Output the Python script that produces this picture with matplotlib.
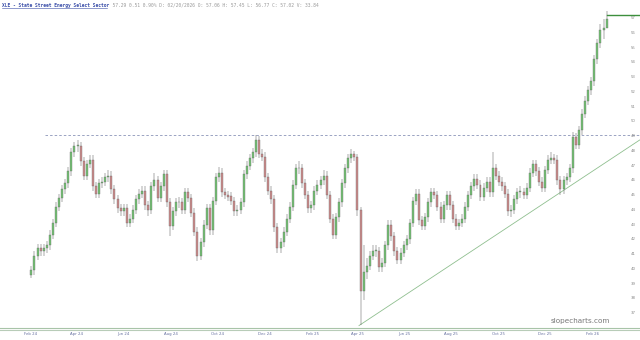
import matplotlib
matplotlib.use('Agg')
import matplotlib.pyplot as plt
import matplotlib.dates as mdates
import numpy as np
import pandas as pd

# XLE, one bar per 4 calendar days
first_open = 39.6
closes = [39.9, 40.9, 41.4, 41.2, 41.4, 41.6, 42.3, 43.1, 44.2, 44.8,
          45.4, 45.8, 46.6, 47.9, 48.3, 48.3, 47.3, 46.3, 47.1, 47.4,
          45.6, 45.1, 45.8, 45.9, 46.2, 46.3, 45.4, 44.7, 44.1, 43.9,
          44.1, 43.1, 43.4, 44.0, 44.7, 45.1, 45.3, 44.3, 44.0, 45.6,
          46.0, 44.8, 45.6, 46.4, 44.5, 42.9, 43.9, 44.5, 44.5, 44.0,
          45.2, 44.8, 43.8, 42.5, 40.9, 41.8, 43.0, 44.1, 42.6, 44.6,
          46.2, 46.5, 45.2, 45.0, 44.9, 44.6, 43.9, 44.0, 44.5, 46.4,
          47.0, 47.5, 47.9, 48.7, 47.8, 47.6, 46.2, 45.3, 44.7, 42.8,
          41.4, 41.8, 42.5, 43.4, 44.2, 45.7, 46.8, 46.8, 45.8, 45.0,
          44.1, 44.3, 45.3, 45.7, 46.0, 46.3, 45.0, 43.4, 42.3, 43.5,
          44.5, 45.8, 46.8, 47.5, 47.8, 47.6, 44.0, 38.5, 39.8, 40.2,
          40.9, 41.2, 41.2, 40.1, 40.4, 41.6, 43.0, 42.2, 41.2, 40.6,
          41.1, 41.6, 42.0, 43.1, 44.6, 45.1, 43.3, 42.9, 43.5, 44.5,
          45.2, 45.0, 44.2, 43.4, 44.3, 45.0, 44.3, 43.4, 42.9, 43.1,
          43.4, 44.2, 45.0, 45.6, 46.1, 45.7, 44.9, 45.5, 45.9, 45.2,
          46.8, 46.3, 45.9, 45.6, 45.1, 43.9, 44.0, 44.7, 45.2, 45.2,
          45.0, 45.5, 46.5, 47.1, 46.6, 45.9, 45.5, 46.7, 47.4, 47.5,
          47.4, 46.0, 45.4, 46.0, 46.2, 46.8, 48.9, 48.4, 49.4, 50.5,
          51.4, 52.1, 52.7, 54.2, 55.3, 56.2, 56.3, 56.9]
highs = [40.2, 41.2, 41.7, 41.7, 41.7, 41.9, 42.6, 43.4, 44.5, 45.1,
         45.7, 46.1, 46.9, 48.2, 48.6, 48.7, 48.6, 47.6, 47.4, 47.7,
         47.7, 45.9, 46.1, 46.2, 46.5, 46.7, 46.6, 45.7, 45.0, 44.4,
         44.4, 44.4, 43.7, 44.3, 45.0, 45.4, 45.6, 45.6, 44.6, 45.9,
         46.5, 46.3, 45.9, 46.7, 46.7, 44.8, 44.2, 44.8, 44.9, 44.8,
         45.5, 45.5, 45.1, 44.1, 42.8, 42.1, 43.3, 44.4, 44.4, 44.9,
         46.5, 46.9, 46.8, 45.5, 45.3, 45.2, 44.9, 44.3, 44.8, 46.7,
         47.3, 47.8, 48.2, 49.1, 49.0, 48.1, 47.9, 46.5, 45.6, 45.0,
         43.1, 42.1, 42.8, 43.7, 44.5, 46.0, 47.1, 47.3, 47.1, 46.1,
         45.3, 44.6, 45.6, 46.0, 46.3, 46.7, 46.6, 45.3, 43.7, 43.8,
         44.8, 46.1, 47.1, 47.8, 48.1, 48.0, 47.8, 44.2, 41.6, 40.7,
         41.2, 41.6, 41.6, 41.5, 40.7, 41.9, 43.3, 43.3, 42.5, 41.5,
         41.4, 41.9, 42.3, 43.4, 44.9, 45.4, 45.4, 43.6, 43.8, 44.8,
         45.5, 45.5, 45.3, 44.5, 44.6, 45.3, 45.3, 44.6, 43.7, 43.4,
         43.7, 44.5, 45.3, 45.9, 46.4, 46.4, 46.0, 45.8, 46.2, 46.2,
         47.9, 47.1, 46.6, 46.2, 45.9, 45.4, 44.3, 45.0, 45.5, 45.6,
         45.5, 45.8, 46.8, 47.4, 47.4, 46.9, 46.2, 47.0, 47.7, 47.9,
         47.8, 47.7, 46.3, 46.3, 46.5, 47.1, 49.3, 49.2, 49.7, 50.8,
         51.7, 52.4, 53.0, 54.5, 55.6, 56.6, 56.9, 57.5]
lows = [39.4, 39.6, 40.6, 40.9, 40.9, 41.1, 41.3, 42.0, 42.8, 43.9,
        44.5, 45.1, 45.5, 46.3, 47.6, 47.9, 47.0, 46.0, 46.0, 46.8,
        45.3, 44.8, 44.8, 45.5, 45.6, 45.9, 45.1, 44.4, 43.8, 43.6,
        43.6, 42.8, 42.8, 43.1, 43.7, 44.4, 44.8, 44.0, 43.6, 43.7,
        45.3, 44.5, 44.5, 45.3, 44.2, 42.2, 42.6, 43.6, 44.1, 43.7,
        43.7, 44.5, 43.5, 42.2, 40.5, 40.6, 41.5, 42.7, 42.3, 42.3,
        44.3, 45.9, 44.9, 44.7, 44.6, 44.3, 43.6, 43.6, 43.7, 44.2,
        46.1, 46.7, 47.2, 47.6, 47.5, 47.3, 45.9, 45.0, 44.4, 42.5,
        41.1, 41.1, 41.5, 42.2, 43.1, 43.9, 45.4, 46.4, 45.5, 44.7,
        43.8, 43.8, 44.0, 45.0, 45.4, 45.7, 44.7, 43.1, 42.0, 42.0,
        43.2, 44.2, 45.5, 46.5, 47.2, 47.3, 43.6, 36.2, 37.9, 39.3,
        39.9, 40.6, 40.8, 39.8, 39.8, 40.1, 41.3, 41.9, 40.9, 40.3,
        40.3, 40.8, 41.3, 41.7, 42.8, 44.3, 43.0, 42.6, 42.6, 43.2,
        44.2, 44.7, 43.9, 43.1, 43.1, 44.0, 44.0, 43.1, 42.6, 42.6,
        42.8, 43.1, 43.9, 44.7, 45.3, 45.4, 44.6, 44.6, 45.2, 44.9,
        44.9, 46.0, 45.6, 45.3, 44.8, 43.6, 43.5, 43.7, 44.4, 44.8,
        44.7, 44.7, 45.2, 46.2, 46.3, 45.6, 45.2, 45.2, 46.4, 47.1,
        47.1, 45.7, 45.0, 45.1, 45.7, 45.9, 46.5, 48.1, 48.1, 49.1,
        50.2, 51.1, 51.8, 52.4, 53.9, 55.0, 55.6, 56.4]

y_ticks = list(range(37, 58))
x_tick_dates = ['2024-02-01', '2024-04-01', '2024-06-01', '2024-08-01', '2024-10-01',
                '2024-12-01', '2025-02-01', '2025-04-01', '2025-06-01', '2025-08-01',
                '2025-10-01', '2025-12-01', '2026-02-01']
resistance = 49.1
last_price = 57.2
trend_start = ('2025-04-03', 36.15)
trend_end = ('2026-04-03', 48.73)

title_link = 'XLE - State Street Energy Select Sector'
title_rest = '  57.29 0.51 0.90% D: 02/20/2026 O: 57.06 H: 57.45 L: 56.77 C: 57.02 V: 33.84'

dates = pd.date_range('2024-02-02', periods=len(closes), freq='4D')
opens = [first_open] + closes[:-1]

fig = plt.figure(figsize=(6.4, 3.4), dpi=100)
ax = fig.add_axes([0, 12.5 / 340, 1, 327.5 / 340])

x = mdates.date2num(dates)
o = np.array(opens)
c = np.array(closes)
up = c >= o
col = np.where(up, '#74c374', '#cd8c8c')
ax.vlines(x, lows, highs, color='#555555', lw=0.35, zorder=2)
ax.bar(x, np.maximum(np.abs(c - o), 0.06), bottom=np.minimum(o, c), width=2.6,
       color=col, edgecolor='#666666', linewidth=0.25, zorder=3)

base = mdates.datestr2num('2024-02-01')
ax.set_xlim(base - 39.8, base + 792.4)
ax.set_ylim(36.02, 58.22)

ax.plot([mdates.datestr2num('2024-02-20'), base + 800], [resistance, resistance],
        color='#8a94b8', lw=0.6, ls=(0, (3, 2.5)), zorder=1)
ax.plot([mdates.datestr2num(trend_start[0]), mdates.datestr2num(trend_end[0])],
        [trend_start[1], trend_end[1]], color='#8fbf8f', lw=0.6, zorder=1)
ax.plot([x[-1], base + 800], [last_price, last_price], color='#3d8f3d', lw=1.0, zorder=4)

for t in y_ticks:
    ax.text(0.99, t, str(t), transform=ax.get_yaxis_transform(), ha='center', va='center',
            fontsize=2.8, color='#888888')

ax.set_xticks([mdates.datestr2num(d) for d in x_tick_dates])
ax.xaxis.set_major_formatter(mdates.DateFormatter('%b %y'))
ax.tick_params(axis='x', length=0, pad=3.5, labelsize=2.8, labelcolor='#6670a0')
ax.set_yticks([])
for s in ['top', 'left', 'right']:
    ax.spines[s].set_visible(False)
ax.spines['bottom'].set_color('#a8c4a8')
ax.spines['bottom'].set_linewidth(0.8)
fig.add_artist(plt.Line2D([0, 1], [10 / 340, 10 / 340], color='#b8ccb8', lw=0.8))

ax.text(610 / 640, 36.25, 'slopecharts.com', transform=ax.get_yaxis_transform(),
        ha='right', va='bottom', fontsize=5.2, color='#777777')

fig.text(2 / 640, 1 - 5 / 340, title_link, fontsize=3.3, family='DejaVu Sans Mono',
         weight='bold', color='#3a4ea8', va='center', ha='left')
fig.add_artist(plt.Line2D([2 / 640, 107 / 640], [1 - 8 / 340, 1 - 8 / 340],
                          color='#3a4ea8', lw=0.4))
fig.text(107 / 640, 1 - 5 / 340, title_rest, fontsize=3.3, family='DejaVu Sans Mono',
         color='#9a9a9a', va='center', ha='left')

fig.savefig('out.png', dpi=100, facecolor='white')
